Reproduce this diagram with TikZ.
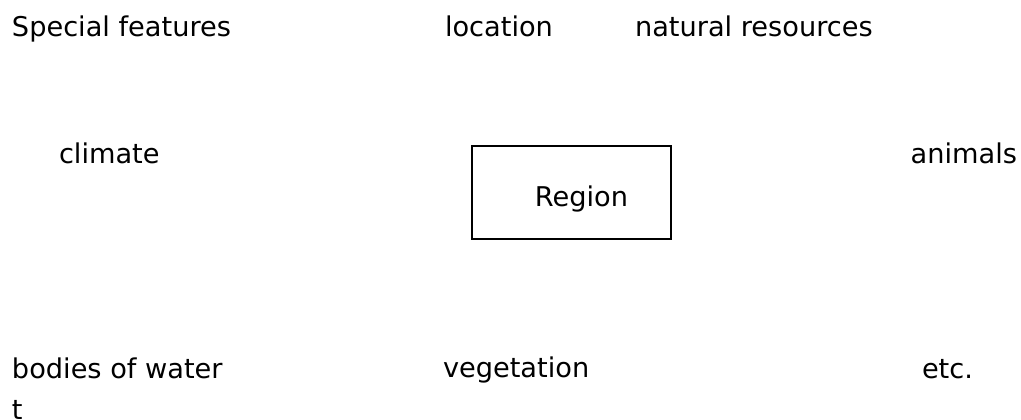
\documentclass[tikz,border=0pt]{standalone}
\usepackage{fontspec}
\setmainfont{DejaVu Sans}
\begin{document}
\begin{tikzpicture}[x=1pt,y=-1pt,
  lbl/.style={inner sep=0pt, outer sep=0pt, anchor=base west, font=\fontsize{27.2}{32}\selectfont},
  boxstyle/.style={draw=black, line width=1.3pt, inner sep=0pt, minimum width=199pt, minimum height=93pt}]
\useasboundingbox[fill=white] (0,0) rectangle (1021,420);
\node[lbl] (special) at (12,37) {Special features};
\node[lbl] (location) at (445,37) {location};
\node[lbl] (natres) at (635,37) {natural resources};
\node[lbl] (climate) at (59,163) {climate};
\node[lbl, anchor=base east] (animals) at (1017,163) {animals};
\node[boxstyle] (regionbox) at (571.5,192.5) {};
\node[lbl, anchor=base] (region) at (581.5,206) {Region};
\node[lbl] (bodies) at (12,378) {bodies of water};
\node[lbl] (vegetation) at (443,377) {vegetation};
\node[lbl] (etc) at (922,378) {etc.};
\node[lbl] (tee) at (12,419) {t};
\end{tikzpicture}
\end{document}
